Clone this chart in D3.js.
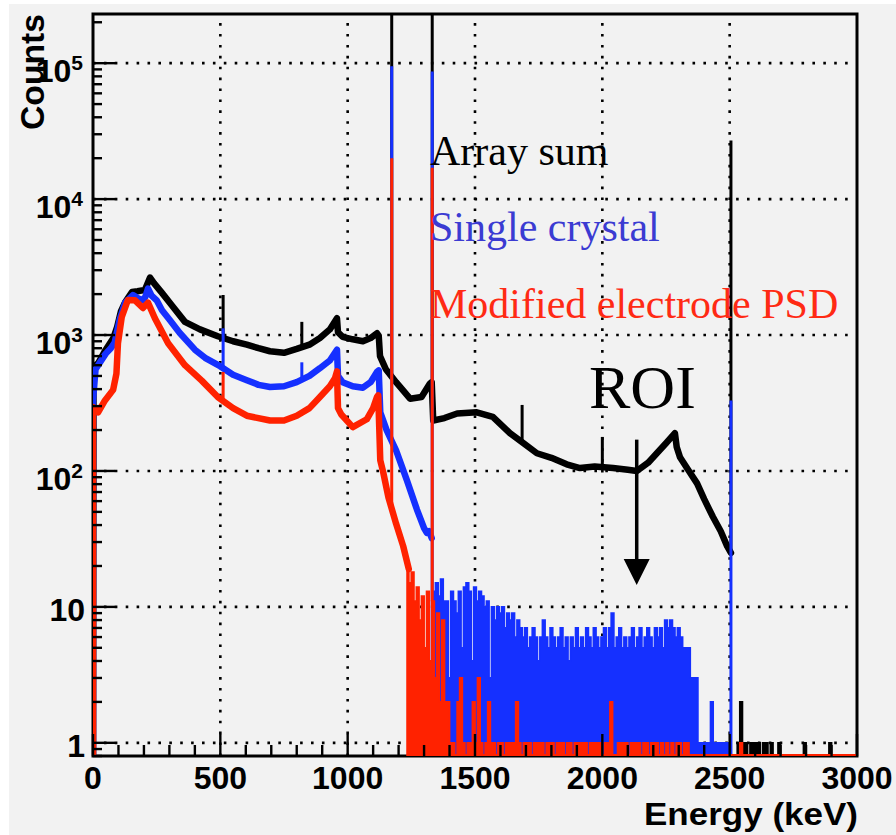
<!DOCTYPE html>
<html><head><meta charset="utf-8">
<script src="https://cdn.jsdelivr.net/npm/d3@7"></script>
<style>
html,body{margin:0;padding:0;background:#fff;}
svg{display:block;}
</style></head><body>
<svg id="chart" width="896" height="835"></svg>
<script>
// ---------------- data ----------------
const xTickValues = [0, 500, 1000, 1500, 2000, 2500, 3000];
const xTickLabels = ["0", "500", "1000", "1500", "2000", "2500", "3000"];
const yTickValues = [1, 10, 100, 1000, 10000, 100000];
const yTickBase = ["1", "10", "10", "10", "10", "10"];
const yTickExp = ["", "", "2", "3", "4", "5"];

// Array sum continuum (energy keV, counts)
const blackE = [0, 2, 20, 50, 80, 95, 110, 126, 153, 175, 204, 224, 240, 270, 310, 361, 420, 490, 550, 604, 650, 695, 750, 800, 850, 891, 930, 958, 962, 980, 1020, 1060, 1090, 1115, 1122, 1127, 1150, 1190, 1245, 1290, 1323, 1330, 1336, 1380, 1430, 1507, 1570, 1637, 1690, 1743, 1800, 1860, 1912, 1970, 2042, 2100, 2136, 2180, 2214, 2250, 2285, 2292, 2305, 2340, 2372, 2400, 2434, 2465, 2490, 2505];
const blackC = [0, 580, 620, 780, 950, 1150, 1500, 1740, 2070, 2100, 2150, 2650, 2400, 2050, 1650, 1250, 1100, 980, 900, 850, 800, 760, 740, 790, 850, 950, 1100, 1330, 1050, 970, 930, 900, 950, 1030, 990, 700, 560, 450, 340, 350, 440, 450, 235, 245, 265, 270, 250, 190, 160, 135, 125, 112, 105, 108, 105, 102, 100, 115, 135, 160, 190, 150, 126, 100, 81, 62, 46, 36, 28, 25];

// Single crystal continuum
const blueE = [0, 0, 10, 30, 50, 70, 85, 94, 105, 126, 157, 180, 192, 205, 216, 230, 250, 271, 300, 340, 400, 440, 499, 550, 604, 650, 695, 750, 800, 850, 891, 930, 958, 962, 980, 1020, 1060, 1090, 1115, 1122, 1128, 1153, 1190, 1232, 1272, 1300, 1311, 1320, 1330];
const blueC = [0, 330, 560, 640, 730, 800, 880, 1050, 1300, 1730, 1970, 1850, 1800, 1900, 2200, 1950, 1800, 1520, 1300, 1040, 780, 680, 590, 510, 465, 430, 415, 420, 450, 500, 570, 650, 780, 500, 450, 420, 410, 450, 535, 550, 270, 200, 142, 86, 52, 38, 35, 36, 32];

// Modified electrode PSD continuum
const redE = [0, 0, 20, 47, 79, 92, 98, 113, 137, 165, 196, 216, 243, 295, 361, 428, 490, 550, 604, 695, 750, 800, 850, 891, 930, 950, 958, 962, 975, 1020, 1075, 1100, 1115, 1120, 1128, 1140, 1160, 1190, 1218, 1240];
const redC = [0, 295, 270, 330, 395, 520, 870, 1360, 1810, 1800, 1580, 1730, 1330, 870, 600, 460, 350, 290, 255, 235, 235, 255, 290, 350, 420, 480, 540, 290, 260, 210, 240, 290, 350, 360, 120, 97, 64, 41, 28, 19];

// low-count tails, 10 keV bins
const binWidth = 10;
const blackTailStart = 2510;
const blackTail = [
  0, 0, 1, 2, 1, 1, 0, 1, 1, 1,
  1, 0, 1, 1, 0, 1, 0, 0, 1, 0,
  0, 0, 0, 0, 0, 0, 0, 0, 1, 0,
  0, 0, 0, 0, 0, 0, 0, 0, 1, 0];
const blueTailStart = 1335;
const blueTail = [
  13, 15, 12, 16, 11, 11, 3, 13, 11, 9,
  13, 5, 14, 15, 13, 4, 14, 11, 13, 12,
  10, 11, 3, 10, 8, 10, 9, 10, 7, 9,
  8, 9, 6, 8, 7, 6, 7, 5, 6, 7,
  6, 4, 6, 8, 6, 5, 7, 6, 5, 6,
  7, 5, 6, 4, 6, 5, 7, 5, 6, 5,
  7, 6, 5, 7, 6, 5, 6, 7, 5, 7,
  9, 5, 6, 7, 5, 6, 5, 6, 7, 5,
  6, 7, 5, 6, 7, 6, 5, 7, 6, 7,
  5, 8, 7, 8, 7, 6, 7, 6, 5, 5,
  5, 3, 3, 3, 1, 1, 1, 1, 1, 2,
  1, 1, 1, 1, 1, 1, 1, 0];
const redTailStart = 1230;
const redTail = [
  20, 15, 18, 11, 14, 8, 12, 5, 13, 4,
  11, 3, 9, 2, 8, 2,
  2, 1, 1, 0, 2, 3, 1, 0, 1, 1,
  2, 1, 3, 1, 0, 1, 2, 1, 1, 0,
  1, 1, 0, 1, 1, 1, 1, 2, 1, 0,
  1, 1, 1, 0, 1, 1, 1, 1, 0, 1,
  1, 1, 0, 1, 1, 1, 0, 1, 1, 0,
  1, 1, 1, 1, 1, 0, 1, 1, 1, 1,
  1, 0, 1, 1, 2, 0, 0, 1, 1, 1,
  1, 0, 1, 1, 1, 1, 0, 1, 1, 0,
  1, 1, 1, 0, 1, 0, 1, 0, 1, 0,
  1, 1, 0, 1, 1, 0, 0, 0, 0, 0,
  0, 0, 0, 0, 0, 0, 0, 0, 0, 0,
  0, 0, 0, 0, 0, 1, 0];

// gamma lines (peak tops, 0 = none)
const peakE = [511, 820, 1173, 1332, 1685, 2000, 2505];
const blackPeak = [1970, 1250, 1e7, 1e7, 306, 178, 27000];
const bluePeak = [1120, 630, 95000, 87000, 0, 0, 330];
const redPeak = [535, 0, 20000, 17000, 0, 0, 0];

const legendLabels = ["Array sum", "Single crystal", "Modified electrode PSD"];
const roiLabel = "ROI";
const roiEnergy = 2135;
const roiTopCounts = 170;
const roiTipCounts = 14.5;

// ---------------- drawing ----------------
const svg = d3.select("#chart");
svg.append("rect").attr("x", 9).attr("y", 4).attr("width", 887).attr("height", 831).attr("fill", "#f2f2f2");

const L = 93, R = 857, T = 14, B = 756;
const x = d3.scaleLinear().domain([0, 3000]).range([L, R]);
const yMin = 0.8, yMax = 2.3e5;
const y = d3.scaleLog().domain([yMin, yMax]).range([B, T]);
const yv = v => v > yMin ? y(v) : B - 1;

svg.append("clipPath").attr("id", "clip").append("rect")
  .attr("x", L).attr("y", T).attr("width", R - L).attr("height", B - T);

// grid
const grid = svg.append("g").attr("stroke", "#000").attr("stroke-width", 2.6).attr("stroke-dasharray", "2.6 8.3");
xTickValues.filter(v => v > 0 && v < 3000).forEach(v => {
  grid.append("line").attr("x1", x(v)).attr("x2", x(v)).attr("y1", B).attr("y2", T);
});
yTickValues.forEach(v => {
  grid.append("line").attr("x1", L).attr("x2", R).attr("y1", y(v)).attr("y2", y(v));
});

// frame
svg.append("rect").attr("x", L).attr("y", T).attr("width", R - L).attr("height", B - T)
  .attr("fill", "none").attr("stroke", "#000").attr("stroke-width", 3);

const series = [
  {E: blackE, C: blackC, tailStart: blackTailStart, tail: blackTail, peaks: blackPeak, color: "#000000"},
  {E: blueE, C: blueC, tailStart: blueTailStart, tail: blueTail, peaks: bluePeak, color: "#1530ff"},
  {E: redE, C: redC, tailStart: redTailStart, tail: redTail, peaks: redPeak, color: "#ff2200"}
];

function valueAt(s, e) {
  const E = s.E, C = s.C;
  if (e >= E[0] && e <= E[E.length - 1]) {
    for (let i = 0; i < E.length - 1; i++) {
      if (e >= E[i] && e <= E[i + 1] && E[i + 1] > E[i]) {
        const t = (e - E[i]) / (E[i + 1] - E[i]);
        return C[i] + t * (C[i + 1] - C[i]);
      }
    }
  }
  if (e >= s.tailStart) {
    const idx = Math.floor((e - s.tailStart) / binWidth);
    return idx < s.tail.length ? s.tail[idx] : 0;
  }
  return 0;
}

const plot = svg.append("g").attr("clip-path", "url(#clip)");
const contLine = d3.line().x(d => x(d[0])).y(d => yv(d[1]));
const stepArea = d3.area().curve(d3.curveStepAfter).x(d => x(d[0])).y0(B).y1(d => yv(d[1]));
const stepLine = d3.line().curve(d3.curveStepAfter).x(d => x(d[0])).y(d => yv(d[1]));

series.forEach(s => {
  const g = plot.append("g");
  const pts = s.tail.map((v, i) => [s.tailStart + i * binWidth, v]);
  pts.push([3000, s.tail[s.tail.length - 1]]);
  g.append("path").datum(pts).attr("d", stepArea).attr("fill", s.color).attr("stroke", "none");
  g.append("path").datum(pts).attr("d", stepLine).attr("fill", "none")
    .attr("stroke", s.color).attr("stroke-width", 1.8);
  g.append("path").datum(d3.zip(s.E, s.C)).attr("d", contLine)
    .attr("fill", "none").attr("stroke", s.color).attr("stroke-width", 6.5)
    .attr("stroke-linejoin", "round").attr("stroke-linecap", "round");
  peakE.forEach((e, i) => {
    const top = s.peaks[i];
    if (!top) return;
    const base = valueAt(s, e);
    g.append("line").attr("x1", x(e)).attr("x2", x(e))
      .attr("y1", yv(base)).attr("y2", y(Math.min(top, yMax * 10)))
      .attr("stroke", s.color).attr("stroke-width", 3);
  });
});

// ticks
const ticks = svg.append("g").attr("stroke", "#000").attr("stroke-width", 2.4);
x.ticks(30).forEach(v => {
  const major = v % 500 === 0;
  ticks.append("line").attr("x1", x(v)).attr("x2", x(v)).attr("y1", B).attr("y2", B - (major ? 22 : 11));
});
y.ticks().forEach(v => {
  const m = Math.round(v / Math.pow(10, Math.floor(Math.log10(v) + 1e-9)));
  const major = m === 1;
  ticks.append("line").attr("x1", L).attr("x2", L + (major ? 22 : 9)).attr("y1", y(v)).attr("y2", y(v));
});

const font = "'Liberation Sans', Arial, Helvetica, sans-serif";
// x tick labels
xTickValues.forEach((v, i) => {
  svg.append("text").attr("x", x(v)).attr("y", 789).attr("text-anchor", "middle")
    .attr("font-family", font).attr("font-weight", "bold").attr("font-size", 32)
    .text(xTickLabels[i]);
});
// y tick labels
yTickValues.forEach((v, i) => {
  const t = svg.append("text").attr("text-anchor", "end")
    .attr("font-family", font).attr("font-weight", "bold").attr("font-size", 32);
  if (yTickExp[i]) {
    t.attr("x", 83).attr("y", y(v) + 19);
    t.append("tspan").text(yTickBase[i]);
    t.append("tspan").attr("dy", -12).attr("font-size", 21).text(yTickExp[i]);
  } else {
    t.attr("x", 85).attr("y", y(v) + 14).text(yTickBase[i]);
  }
});

// axis titles
svg.append("text").attr("x", 858).attr("y", 825).attr("text-anchor", "end")
  .attr("font-family", font).attr("font-weight", "bold").attr("font-size", 31)
  .attr("textLength", 214).attr("lengthAdjust", "spacingAndGlyphs")
  .text("Energy (keV)");
svg.append("text").attr("transform", "translate(44,14) rotate(-90)").attr("text-anchor", "end")
  .attr("font-family", font).attr("font-weight", "bold").attr("font-size", 34)
  .attr("textLength", 116).attr("lengthAdjust", "spacingAndGlyphs")
  .text("Counts");

// legend
const serif = "'Liberation Serif', 'Times New Roman', Times, serif";
const legendColors = ["#000000", "#3b3bd2", "#ff2a14"];
const legendY = [165, 241, 318];
legendLabels.forEach((lab, i) => {
  svg.append("text").attr("x", 430).attr("y", legendY[i]).attr("font-family", serif)
    .attr("font-size", 42).attr("fill", legendColors[i]).text(lab);
});

// ROI annotation
svg.append("text").attr("x", 589).attr("y", 408).attr("font-family", serif)
  .attr("font-size", 62).attr("fill", "#000").text(roiLabel);
const ax = x(roiEnergy), aTop = y(roiTopCounts), aTip = y(roiTipCounts);
svg.append("line").attr("x1", ax).attr("x2", ax).attr("y1", aTop).attr("y2", aTip - 20)
  .attr("stroke", "#000").attr("stroke-width", 3.5);
svg.append("path").attr("d", `M${ax - 13},${aTip - 26}L${ax + 13},${aTip - 26}L${ax},${aTip}Z`).attr("fill", "#000");
</script>
</body></html>
